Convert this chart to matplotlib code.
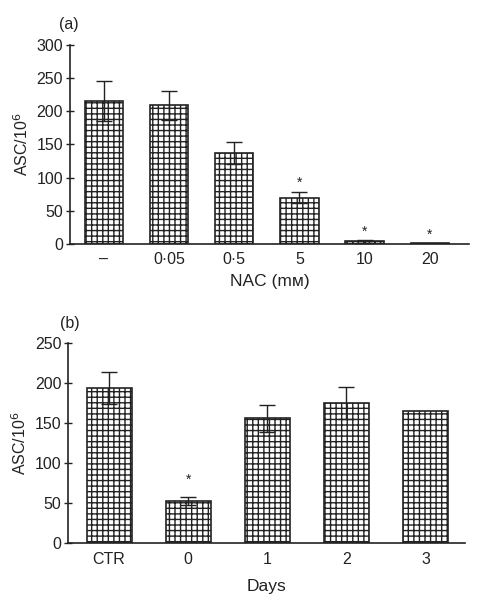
import matplotlib
matplotlib.use("Agg")
import matplotlib.pyplot as plt
import numpy as np

plt.rcParams['font.family'] = ['Liberation Sans', 'DejaVu Sans']
plt.rcParams['hatch.linewidth'] = 1.0

# Panel (a)
a_labels = ['–', '0·05', '0·5', '5', '10', '20']
a_values = [215, 209, 137, 70, 4, 1]
a_errors = [30, 22, 16, 8, 2, 0]
a_star = [False, False, False, True, True, True]
a_star_y = [None, None, None, 92, 18, 14]

# Panel (b)
b_labels = ['CTR', '0', '1', '2', '3']
b_values = [194, 53, 156, 175, 165]
b_errors = [20, 5, 17, 20, 0]
b_star = [False, True, False, False, False]
b_star_y = [None, 79, None, None, None]

ink = '#222222'

fig = plt.figure(figsize=(4.8, 6.03), dpi=100)
ax1 = fig.add_axes([0.1458, 0.5954, 0.977 - 0.1458, 0.9254 - 0.5954])
ax2 = fig.add_axes([0.1424, 0.0990, 0.969 - 0.1424, 0.4307 - 0.0990])


def draw(ax, labels, values, errors, stars, star_y, width, ylim, yticks, xlim,
         xlabel, xlabelpad):
    x = np.arange(len(labels))
    ax.bar(x, values, width=width, color='white', edgecolor=ink, hatch='+++',
           linewidth=1.2, zorder=2)
    for xi, v, e in zip(x, values, errors):
        if e > 0:
            ax.errorbar(xi, v, yerr=e, fmt='none', ecolor=ink, elinewidth=1.0,
                        capsize=6, capthick=1.0, zorder=3)
    for xi, s, sy in zip(x, stars, star_y):
        if s:
            ax.text(xi, sy, '*', ha='center', va='center', fontsize=10, color=ink)
    ax.set_xlim(*xlim)
    ax.set_ylim(*ylim)
    ax.set_yticks(yticks)
    ax.set_xticks(x)
    ax.set_xticklabels(labels)
    for sp in ['top', 'right']:
        ax.spines[sp].set_visible(False)
    for sp in ['left', 'bottom']:
        ax.spines[sp].set_color(ink)
        ax.spines[sp].set_linewidth(1.2)
    ax.tick_params(axis='y', direction='inout', length=6, width=1.0, colors=ink,
                   labelsize=11.5, pad=2)
    ax.tick_params(axis='x', length=0, colors=ink, labelsize=11.5, pad=6)
    ax.set_ylabel('ASC/10$^6$', fontsize=11.5, color=ink, labelpad=4)
    ax.set_xlabel(xlabel, fontsize=12.5, color=ink, labelpad=xlabelpad)


draw(ax1, a_labels, a_values, a_errors, a_star, a_star_y, 0.59, (0, 300),
     [0, 50, 100, 150, 200, 250, 300], (-0.52, 5.6), 'NAC (mм)', 5)
draw(ax2, b_labels, b_values, b_errors, b_star, b_star_y, 0.57, (0, 250),
     [0, 50, 100, 150, 200, 250], (-0.515, 4.5), 'Days', 9)

fig.text(0.144, 0.960, '(a)', fontsize=11.5, color=ink, ha='center', va='center')
fig.text(0.146, 0.4643, '(b)', fontsize=11.5, color=ink, ha='center', va='center')

fig.savefig('out.png', dpi=100)
